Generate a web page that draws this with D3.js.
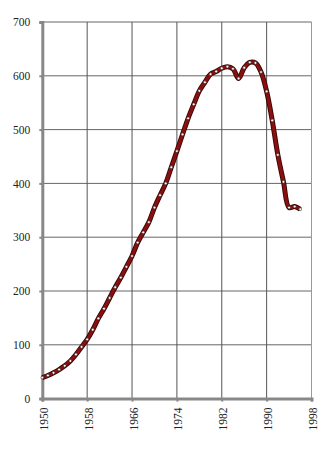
<!DOCTYPE html>
<html lang="en">
<head>
    <meta charset="UTF-8">
    <title>Line chart 1950-1996</title>
    <style>
        body { margin: 0; background: #fff; }
    </style>
</head>
<body>
    <svg width="335" height="452"></svg>

    <script src="https://d3js.org/d3.v7.min.js"></script>
    <script>
        // Data
        const years = d3.range(1950, 1997);
        const values = [
            39, 43, 48, 54, 61, 70, 82, 96, 110, 128,
            149, 167, 187, 207, 225, 245, 265, 290, 309, 328,
            355, 378, 400, 430, 460, 491, 521, 547, 572, 588,
            603, 608, 614, 617, 613, 595, 615, 625, 624, 607,
            571, 517, 453, 403, 355, 357, 352
        ];
        const xTicks = [1950, 1958, 1966, 1974, 1982, 1990, 1998];
        const yTicks = [0, 100, 200, 300, 400, 500, 600, 700];

        const data = years.map((y, i) => ({ year: y, value: values[i] }));

        const svg = d3.select("svg");
        const serif = "'Liberation Serif', 'Times New Roman', serif";

        const x = d3.scaleLinear().domain([1950, 1998]).range([42.3, 311.5]);
        const y = d3.scaleLinear().domain([0, 700]).range([398.6, 22]);

        // Gridlines
        svg.append("g").selectAll("line")
            .data(yTicks.slice(1))
            .enter().append("line")
            .attr("x1", x(1950)).attr("x2", x(1998))
            .attr("y1", d => y(d)).attr("y2", d => y(d))
            .attr("stroke", "#666").attr("stroke-width", 1);

        svg.append("g").selectAll("line")
            .data(xTicks.slice(1))
            .enter().append("line")
            .attr("x1", d => x(d)).attr("x2", d => x(d))
            .attr("y1", y(700)).attr("y2", y(0))
            .attr("stroke", d => d === 1998 ? "#999" : "#555").attr("stroke-width", 1);

        // Y axis
        const yAxis = svg.append("g")
            .attr("transform", `translate(${x(1950)},0)`)
            .call(d3.axisLeft(y).tickValues(yTicks).tickSize(3).tickPadding(9));
        yAxis.select(".domain").attr("stroke", "#888").attr("stroke-width", 3);
        yAxis.selectAll(".tick line").attr("stroke", "#888").attr("stroke-width", 2);
        yAxis.selectAll(".tick text")
            .style("font-family", serif).style("font-size", "11.5px").style("fill", "#222");

        // X axis
        const xAxis = svg.append("g")
            .attr("transform", `translate(0,${y(0)})`)
            .call(d3.axisBottom(x).tickValues(xTicks).tickSize(3).tickFormat(d3.format("d")));
        xAxis.select(".domain").attr("stroke", "#888").attr("stroke-width", 3);
        xAxis.selectAll(".tick line").attr("stroke", "#888").attr("stroke-width", 2);
        xAxis.selectAll(".tick text")
            .style("font-family", serif).style("font-size", "11.5px").style("fill", "#222")
            .attr("transform", "rotate(-90)")
            .attr("x", -9).attr("y", 1).attr("dy", "0.35em")
            .style("text-anchor", "end");

        // Line
        const line = d3.line()
            .x(d => x(d.year))
            .y(d => y(d.value))
            .curve(d3.curveCatmullRom.alpha(0.5));

        svg.append("path")
            .datum(data)
            .attr("d", line)
            .attr("fill", "none")
            .attr("stroke", "#3a0505")
            .attr("stroke-width", 5)
            .attr("stroke-linejoin", "round");

        svg.append("path")
            .datum(data)
            .attr("d", line)
            .attr("fill", "none")
            .attr("stroke", "#8a1010")
            .attr("stroke-width", 3.2)
            .attr("stroke-linejoin", "round");

        // Markers
        svg.append("g").selectAll("circle")
            .data(data)
            .enter().append("circle")
            .attr("cx", d => x(d.year))
            .attr("cy", d => y(d.value))
            .attr("r", 1.4)
            .attr("fill", "#fff")
            .attr("stroke", "#222")
            .attr("stroke-width", 0.6);
    </script>
</body>
</html>
